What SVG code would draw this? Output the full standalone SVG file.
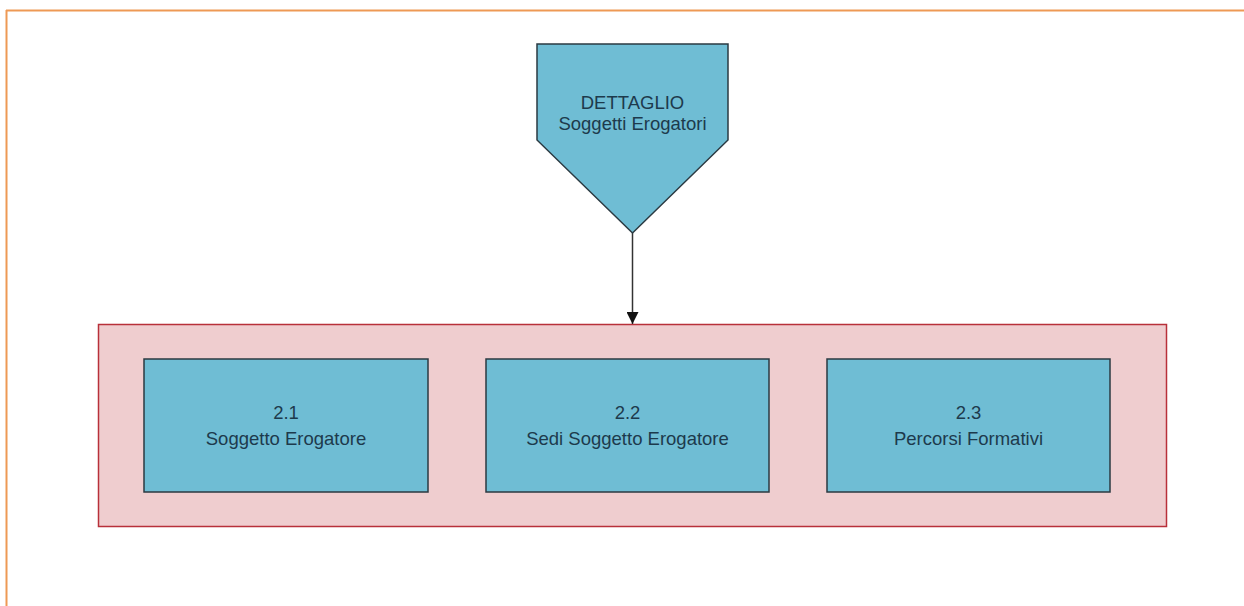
<svg xmlns="http://www.w3.org/2000/svg" width="1244" height="606" viewBox="0 0 1244 606">
<defs>
<style>
.blue{fill:#6fbdd4;stroke:#2b3a42;stroke-width:1.5}
.t{font-family:"Liberation Sans",Arial,sans-serif;font-size:18.5px;fill:#1d3a4c;text-anchor:middle}
</style>
<marker id="ah" markerWidth="12" markerHeight="12" refX="10" refY="5" orient="auto" markerUnits="userSpaceOnUse" viewBox="0 0 10 10">
<path d="M0,0 L10,5 L0,10 z" fill="#111"/>
</marker>
</defs>
<rect width="1244" height="606" fill="#fff"/>
<g id="frame">
<line x1="6" y1="10.5" x2="1244" y2="10.5" stroke="#ee9955" stroke-width="2"/>
<line x1="6.5" y1="10" x2="6.5" y2="606" stroke="#ee9955" stroke-width="2"/>
</g>
<g id="container">
<rect x="98.5" y="324.5" width="1068" height="202" fill="#efcdcf" stroke="#b8303a" stroke-width="1.5"/>
</g>
<g id="connectors">
<line x1="632.5" y1="233" x2="632.5" y2="324" stroke="#333" stroke-width="1.5" marker-end="url(#ah)"/>
</g>
<g id="dettaglio">
<polygon class="blue" points="537,44 728,44 728,140 632.5,233 537,140"/>
<text class="t" x="632.5" y="109">DETTAGLIO</text>
<text class="t" x="632.5" y="130">Soggetti Erogatori</text>
</g>
<g id="n21">
<rect class="blue" x="144" y="359" width="284" height="133"/>
<text class="t" x="286" y="419">2.1</text>
<text class="t" x="286" y="445">Soggetto Erogatore</text>
</g>
<g id="n22">
<rect class="blue" x="486" y="359" width="283" height="133"/>
<text class="t" x="627.5" y="419">2.2</text>
<text class="t" x="627.5" y="445">Sedi Soggetto Erogatore</text>
</g>
<g id="n23">
<rect class="blue" x="827" y="359" width="283" height="133"/>
<text class="t" x="968.5" y="419">2.3</text>
<text class="t" x="968.5" y="445">Percorsi Formativi</text>
</g>
</svg>
